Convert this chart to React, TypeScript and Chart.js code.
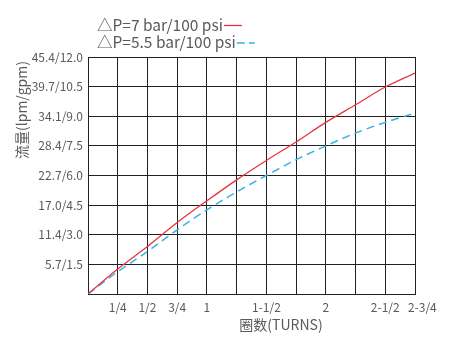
import React, { useEffect, useRef } from 'react';
import { Chart, registerables } from 'chart.js';

Chart.register(...registerables);

const turns = [0, 0.25, 0.5, 0.75, 1, 1.25, 1.5, 1.75, 2, 2.25, 2.5, 2.75];
const flow7bar = [0, 1.27, 2.4, 3.62, 4.72, 5.78, 6.76, 7.7, 8.69, 9.58, 10.48, 11.19];
const flow55bar = [0, 1.13, 2.15, 3.25, 4.26, 5.17, 6.0, 6.8, 7.5, 8.15, 8.69, 9.16];
const xTickLabels = ['', '1/4', '1/2', '3/4', '1', '', '1-1/2', '', '2', '', '2-1/2', '\u2002\u2002 2-3/4'];
const yTickLabels = ['', '5.7/1.5', '11.4/3.0', '17.0/4.5', '22.7/6.0', '28.4/7.5', '34.1/9.0', '39.7/10.5', '45.4/12.0'];
const seriesLabels = ['△P=7 bar/100 psi', '△P=5.5 bar/100 psi'];
const xTitle = '圈数(TURNS)';
const yTitle = '流量(lpm/gpm)';

const FONT = '"Noto Sans CJK SC", "Noto Sans", sans-serif';
const TEXT = '#5a5a5a';
const RED = '#e8343f';
const BLUE = '#35b2e6';
const GRID = '#222222';

const overlayPlugin = {
  id: 'overlay',
  afterDraw(chart: any) {
    const { ctx, chartArea } = chart;
    ctx.save();
    ctx.fillStyle = TEXT;
    ctx.textBaseline = 'middle';
    ctx.font = `15.5px ${FONT}`;
    const lx = 97;
    const rows = [
      { y: 25, color: RED, dash: [] as number[], width: 1.3 },
      { y: 42.5, color: BLUE, dash: [8, 4], width: 1.5 },
    ];
    rows.forEach((r, i) => {
      ctx.fillStyle = TEXT;
      ctx.textAlign = 'left';
      ctx.fillText(seriesLabels[i], lx, r.y);
      const w = ctx.measureText(seriesLabels[i]).width;
      ctx.beginPath();
      ctx.strokeStyle = r.color;
      ctx.lineWidth = r.width;
      ctx.setLineDash(r.dash);
      ctx.moveTo(lx + w + 1, r.y + 0.5);
      ctx.lineTo(lx + w + 19, r.y + 0.5);
      ctx.stroke();
      ctx.setLineDash([]);
    });
    ctx.font = `14px ${FONT}`;
    ctx.fillStyle = TEXT;
    ctx.textAlign = 'center';
    ctx.fillText(xTitle, chartArea.left + 193, chartArea.bottom + 31);
    ctx.translate(22, chartArea.top + 53);
    ctx.rotate(-Math.PI / 2);
    ctx.fillText(yTitle, 0, 0);
    ctx.restore();
  },
};

export default function App() {
  const ref = useRef<HTMLCanvasElement | null>(null);
  useEffect(() => {
    if (!ref.current) return;
    const chart = new Chart(ref.current, {
      type: 'line',
      data: {
        datasets: [
          {
            label: seriesLabels[0],
            data: turns.map((t, i) => ({ x: t, y: flow7bar[i] })),
            borderColor: RED,
            borderWidth: 1.3,
            pointRadius: 0,
            cubicInterpolationMode: 'monotone',
            fill: false,
          },
          {
            label: seriesLabels[1],
            data: turns.map((t, i) => ({ x: t, y: flow55bar[i] })),
            borderColor: BLUE,
            borderWidth: 1.5,
            borderDash: [8, 5],
            pointRadius: 0,
            cubicInterpolationMode: 'monotone',
            fill: false,
          },
        ],
      },
      options: {
        animation: false,
        responsive: false,
        maintainAspectRatio: false,
        layout: { padding: { left: 0, top: 57, right: 54, bottom: 0 } },
        plugins: { legend: { display: false }, tooltip: { enabled: false } },
        scales: {
          x: {
            type: 'linear',
            min: 0,
            max: 2.75,
            grid: { color: GRID, lineWidth: 1, drawTicks: false },
            border: { color: GRID, width: 1 },
            afterFit: (s: any) => { s.height = 59; },
            ticks: {
              stepSize: 0.25,
              autoSkip: false,
              maxRotation: 0,
              padding: 6,
              color: TEXT,
              font: { family: FONT, size: 12 },
              callback: (v: any) => xTickLabels[Math.round(Number(v) / 0.25)] ?? '',
            },
          },
          y: {
            type: 'linear',
            min: 0,
            max: 12,
            grid: { color: GRID, lineWidth: 1, drawTicks: false },
            border: { color: GRID, width: 1 },
            afterFit: (s: any) => { s.width = 88; },
            ticks: {
              stepSize: 1.5,
              autoSkip: false,
              padding: 5,
              color: TEXT,
              font: { family: FONT, size: 12 },
              callback: (v: any) => yTickLabels[Math.round(Number(v) / 1.5)] ?? '',
            },
          },
        },
      },
      plugins: [overlayPlugin],
    });
    return () => chart.destroy();
  }, []);
  return (
    <div style={{ position: 'absolute', left: 0, top: 0, width: 469, height: 353, background: '#fff' }}>
      <canvas ref={ref} width={469} height={353} style={{ display: 'block', width: 469, height: 353 }} />
    </div>
  );
}
